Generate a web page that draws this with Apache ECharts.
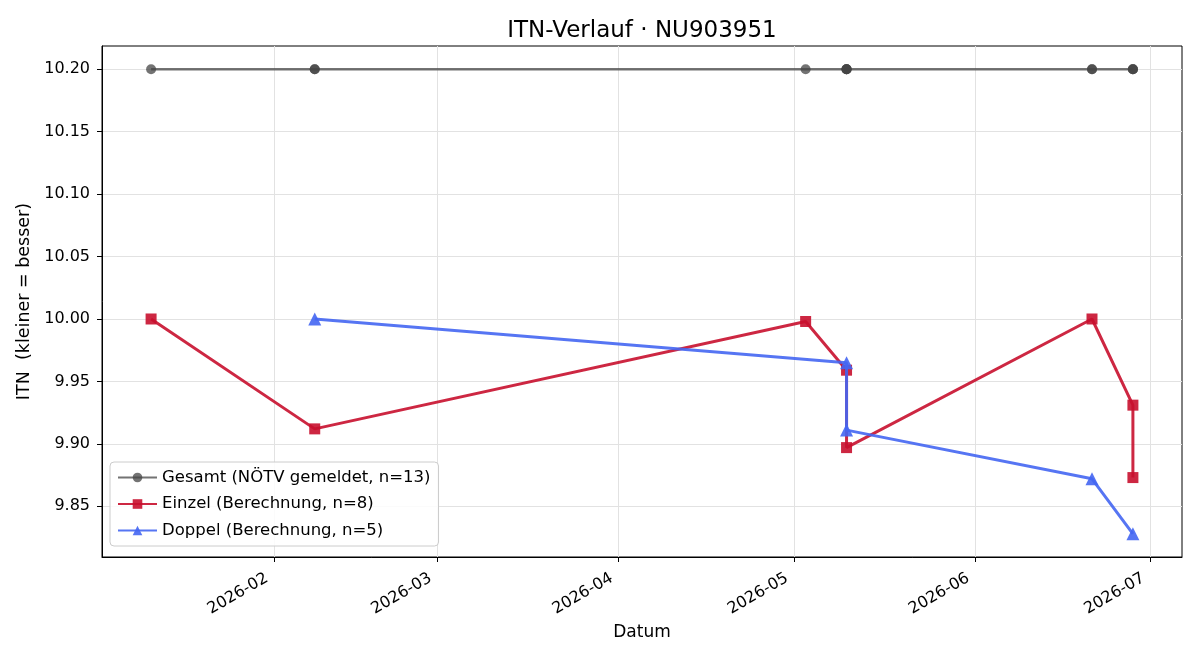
<!DOCTYPE html>
<html>
<head>
<meta charset="utf-8">
<script src="https://cdn.jsdelivr.net/npm/echarts@6/dist/echarts.min.js"></script>
<style>
html,body{margin:0;padding:0;background:#fff;}
#chart{width:1200px;height:660px;}
</style>
</head>
<body>
<div id="chart"></div>
<script>
// ---- data ----
const titleText = 'ITN-Verlauf · NU903951';
const xAxisName = 'Datum';
const yAxisName = 'ITN  (kleiner = besser)';

const gesamtName = 'Gesamt (NÖTV gemeldet, n=13)';
const gesamtDates = ['2026-01-11','2026-02-08','2026-02-08','2026-05-03','2026-05-10','2026-05-10','2026-05-10','2026-05-10','2026-06-21','2026-06-21','2026-06-28','2026-06-28','2026-06-28'];
const gesamtValues = [10.20,10.20,10.20,10.20,10.20,10.20,10.20,10.20,10.20,10.20,10.20,10.20,10.20];

const einzelName = 'Einzel (Berechnung, n=8)';
const einzelDates = ['2026-01-11','2026-02-08','2026-05-03','2026-05-10','2026-05-10','2026-06-21','2026-06-28','2026-06-28'];
const einzelValues = [10.000,9.912,9.998,9.959,9.897,10.000,9.931,9.873];

const doppelName = 'Doppel (Berechnung, n=5)';
const doppelDates = ['2026-02-08','2026-05-10','2026-05-10','2026-06-21','2026-06-28'];
const doppelValues = [10.000,9.965,9.911,9.872,9.828];

const xTickDates = ['2026-02-01','2026-03-01','2026-04-01','2026-05-01','2026-06-01','2026-07-01'];
const yTicks = [9.85,9.90,9.95,10.00,10.05,10.10,10.15,10.20];

// ---- helpers ----
function ts(s){ const p = s.split('-').map(Number); return new Date(p[0], p[1]-1, p[2]).getTime(); }
function pairs(d, v){ return d.map((s,i)=>[ts(s), v[i]]); }
function pad(n){ return (n<10?'0':'')+n; }

const allX = [].concat(gesamtDates, einzelDates, doppelDates).map(ts);
const allY = [].concat(gesamtValues, einzelValues, doppelValues);
const xMinD = Math.min(...allX), xMaxD = Math.max(...allX);
const yMinD = Math.min(...allY), yMaxD = Math.max(...allY);
const xm = (xMaxD - xMinD) * 0.05, ym = (yMaxD - yMinD) * 0.05;

const font = 'DejaVu Sans';

const chart = echarts.init(document.getElementById('chart'), null, {renderer:'canvas'});
chart.setOption({
  animation: false,
  backgroundColor: '#ffffff',
  textStyle: {fontFamily: font},
  title: {
    text: titleText,
    left: 637, top: 15, textAlign: 'center',
    textStyle: {fontFamily: font, fontSize: 23, fontWeight: 'normal', color: '#000'}
  },
  grid: {left: 102, right: 18, top: 46, bottom: 103, show: true, borderColor: '#000', borderWidth: 1, backgroundColor: 'transparent', containLabel: false},
  legend: {
    orient: 'vertical', left: 110, top: 462,
    data: [gesamtName, einzelName, doppelName],
    itemWidth: 39, itemHeight: 12, itemGap: 9.5,
    padding: [7, 8, 7, 7],
    backgroundColor: 'rgba(255,255,255,0.85)',
    borderColor: '#cccccc', borderWidth: 1, borderRadius: 4,
    textStyle: {fontFamily: font, fontSize: 16.5, color: '#000'}
  },
  xAxis: {
    type: 'value',
    min: xMinD - xm, max: xMaxD + xm,
    name: xAxisName, nameLocation: 'middle', nameGap: 67,
    nameTextStyle: {fontFamily: font, fontSize: 17, color: '#000'},
    axisLine: {show: true, lineStyle: {color: '#000', width: 1}},
    axisTick: {show: true, inside: false, length: 5, lineStyle: {color: '#000'}, customValues: xTickDates.map(ts)},
    axisLabel: {
      customValues: xTickDates.map(ts),
      rotate: 30, margin: 16, padding: [0, 8, 0, 0], fontFamily: font, fontSize: 16, color: '#000',
      formatter: function(v){ const d = new Date(v); return d.getFullYear() + '-' + pad(d.getMonth()+1); }
    },
    splitLine: {show: true, lineStyle: {color: '#e2e2e2', width: 1}}
  },
  yAxis: {
    type: 'value',
    min: yMinD - ym, max: yMaxD + ym,
    name: yAxisName, nameLocation: 'middle', nameGap: 65, nameRotate: 90,
    nameTextStyle: {fontFamily: font, fontSize: 17.5, color: '#000'},
    axisLine: {show: true, lineStyle: {color: '#000', width: 1}},
    axisTick: {show: true, inside: false, length: 5, lineStyle: {color: '#000'}, customValues: yTicks},
    axisLabel: {
      customValues: yTicks, margin: 12, fontFamily: font, fontSize: 16, color: '#000',
      formatter: function(v){ return Number(v).toFixed(2); }
    },
    splitLine: {show: true, lineStyle: {color: '#e2e2e2', width: 1}}
  },
  series: [
    {
      name: gesamtName, type: 'line', data: pairs(gesamtDates, gesamtValues),
      symbol: 'circle', symbolSize: 10,
      lineStyle: {color: '#444444', width: 2.5, opacity: 0.75},
      itemStyle: {color: '#444444', opacity: 0.75},
      emphasis: {disabled: true}, z: 2
    },
    {
      name: einzelName, type: 'line', data: pairs(einzelDates, einzelValues),
      symbol: 'rect', symbolSize: 11,
      lineStyle: {color: '#c8102e', width: 3, opacity: 0.9},
      itemStyle: {color: '#c8102e', opacity: 0.9},
      emphasis: {disabled: true}, z: 3
    },
    {
      name: doppelName, type: 'line', data: pairs(doppelDates, doppelValues),
      symbol: 'triangle', symbolSize: 13,
      lineStyle: {color: '#4466f2', width: 3, opacity: 0.9},
      itemStyle: {color: '#4466f2', opacity: 0.9},
      emphasis: {disabled: true}, z: 4
    }
  ]
});
</script>
</body>
</html>
